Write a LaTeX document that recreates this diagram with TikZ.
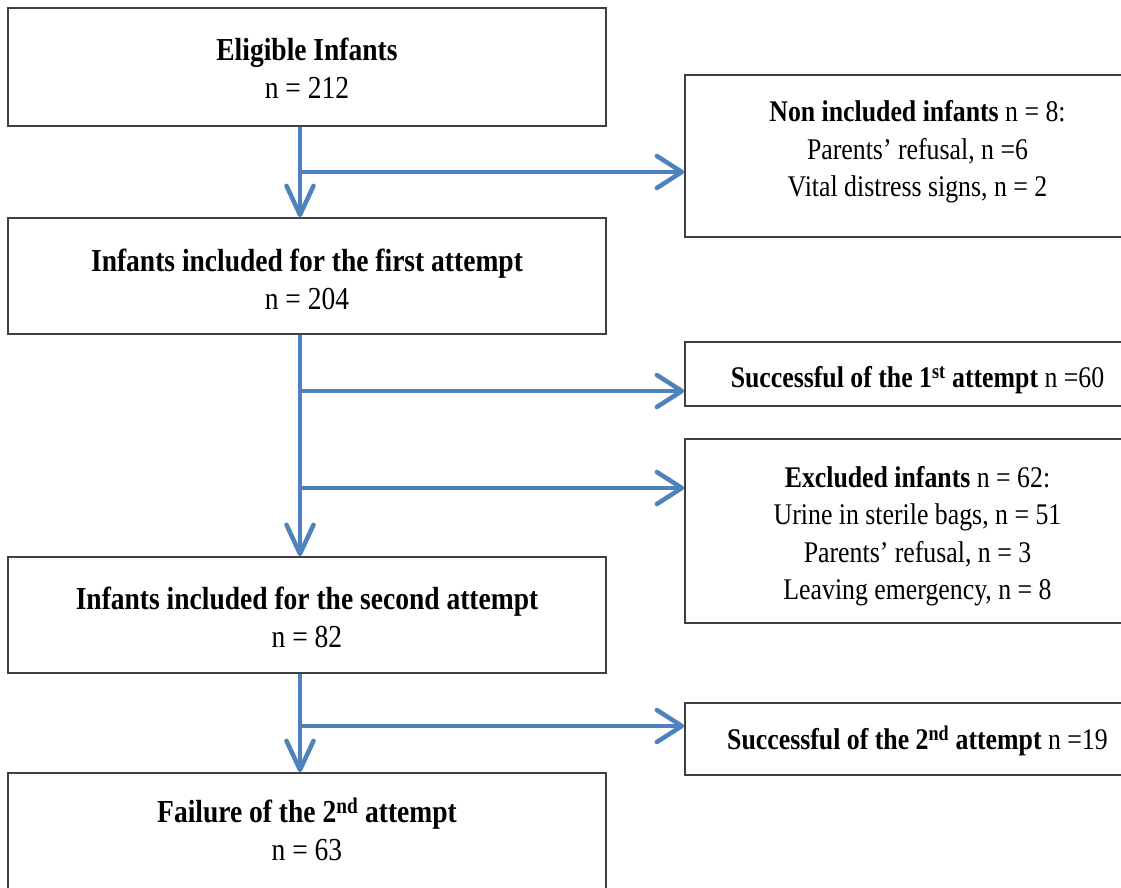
\documentclass[tikz,border=0pt]{standalone}
\usepackage{fontspec}
\setmainfont{Liberation Serif}[FakeStretch=0.86]
\usetikzlibrary{arrows.meta}
\definecolor{arrblue}{HTML}{4F81BD}
\definecolor{boxgray}{HTML}{404040}
\tikzset{
  box/.style={draw=boxgray, line width=1.8pt, fill=white, rectangle, inner sep=0pt},
  lbox/.style={box, minimum width=598pt},
  rbox/.style={box, minimum width=465pt},
  ltext/.style={align=center, inner sep=0pt, font=\fontsize{32}{38}\selectfont},
  rtext/.style={align=center, inner sep=0pt, font=\fontsize{30}{37.5}\selectfont},
  arr/.style={draw=arrblue, line width=4.5pt, line cap=butt},
  harr/.style={arr, -{Straight Barb[length=25pt,width=32pt,line cap=round,line join=round]}},
  varr/.style={arr, -{Straight Barb[length=29pt,width=27pt,line cap=round,line join=round]}}
}
\begin{document}
\begin{tikzpicture}[x=1pt,y=-1pt]
\useasboundingbox (0,0) rectangle (1121,887);
\clip (0,0) rectangle (1121,887);
\fill[white] (0,0) rectangle (1121,887);
% left column boxes
\node[lbox, minimum height=118pt] (elig) at (307,67) {};
\node[lbox, minimum height=116pt] (first) at (307,276) {};
\node[lbox, minimum height=116pt] (second) at (307,615) {};
\node[lbox, minimum height=118pt] (fail) at (307,832) {};
% right column boxes
\node[rbox, minimum height=162pt] (nonincl) at (917.5,156) {};
\node[rbox, minimum height=64pt] (succ1) at (917.5,374) {};
\node[rbox, minimum height=184pt] (excl) at (917.5,531) {};
\node[rbox, minimum height=72pt] (succ2) at (917.5,739) {};
% texts
\node[ltext] (elig-t) at (307,68) {\textbf{Eligible Infants}\\n = 212};
\node[ltext] (first-t) at (307,279) {\textbf{Infants included for the first attempt}\\n = 204};
\node[ltext] (second-t) at (307,617) {\textbf{Infants included for the second attempt}\\n = 82};
\node[ltext] (fail-t) at (307,829) {\textbf{Failure of the 2\textsuperscript{nd} attempt}\\n = 63};
\node[rtext] (nonincl-t) at (917.5,152) {\textbf{Non included infants} n = 8:\\Parents’ refusal, n =6\\Vital distress signs, n = 2};
\node[rtext] (succ1-t) at (917.5,380) {\textbf{Successful of the 1\textsuperscript{st} attempt} n =60};
\node[rtext] (excl-t) at (917.5,536) {\textbf{Excluded infants} n = 62:\\Urine in sterile bags, n = 51\\Parents’ refusal, n = 3\\Leaving emergency, n = 8};
\node[rtext] (succ2-t) at (917.5,741) {\textbf{Successful of the 2\textsuperscript{nd} attempt} n =19};
% junctions
\coordinate (j1) at (300,172);
\coordinate (j2) at (300,391);
\coordinate (j3) at (300,488);
\coordinate (j4) at (300,726);
% connectors
\draw[varr] (elig.south -| j1) -- (first.north -| j1);
\draw[harr] (j1) -- (j1 -| nonincl.west);
\draw[varr] (first.south -| j2) -- (second.north -| j2);
\draw[harr] (j2) -- (j2 -| succ1.west);
\draw[harr] (j3) -- (j3 -| excl.west);
\draw[varr] (second.south -| j4) -- (fail.north -| j4);
\draw[harr] (j4) -- (j4 -| succ2.west);
\end{tikzpicture}
\end{document}
